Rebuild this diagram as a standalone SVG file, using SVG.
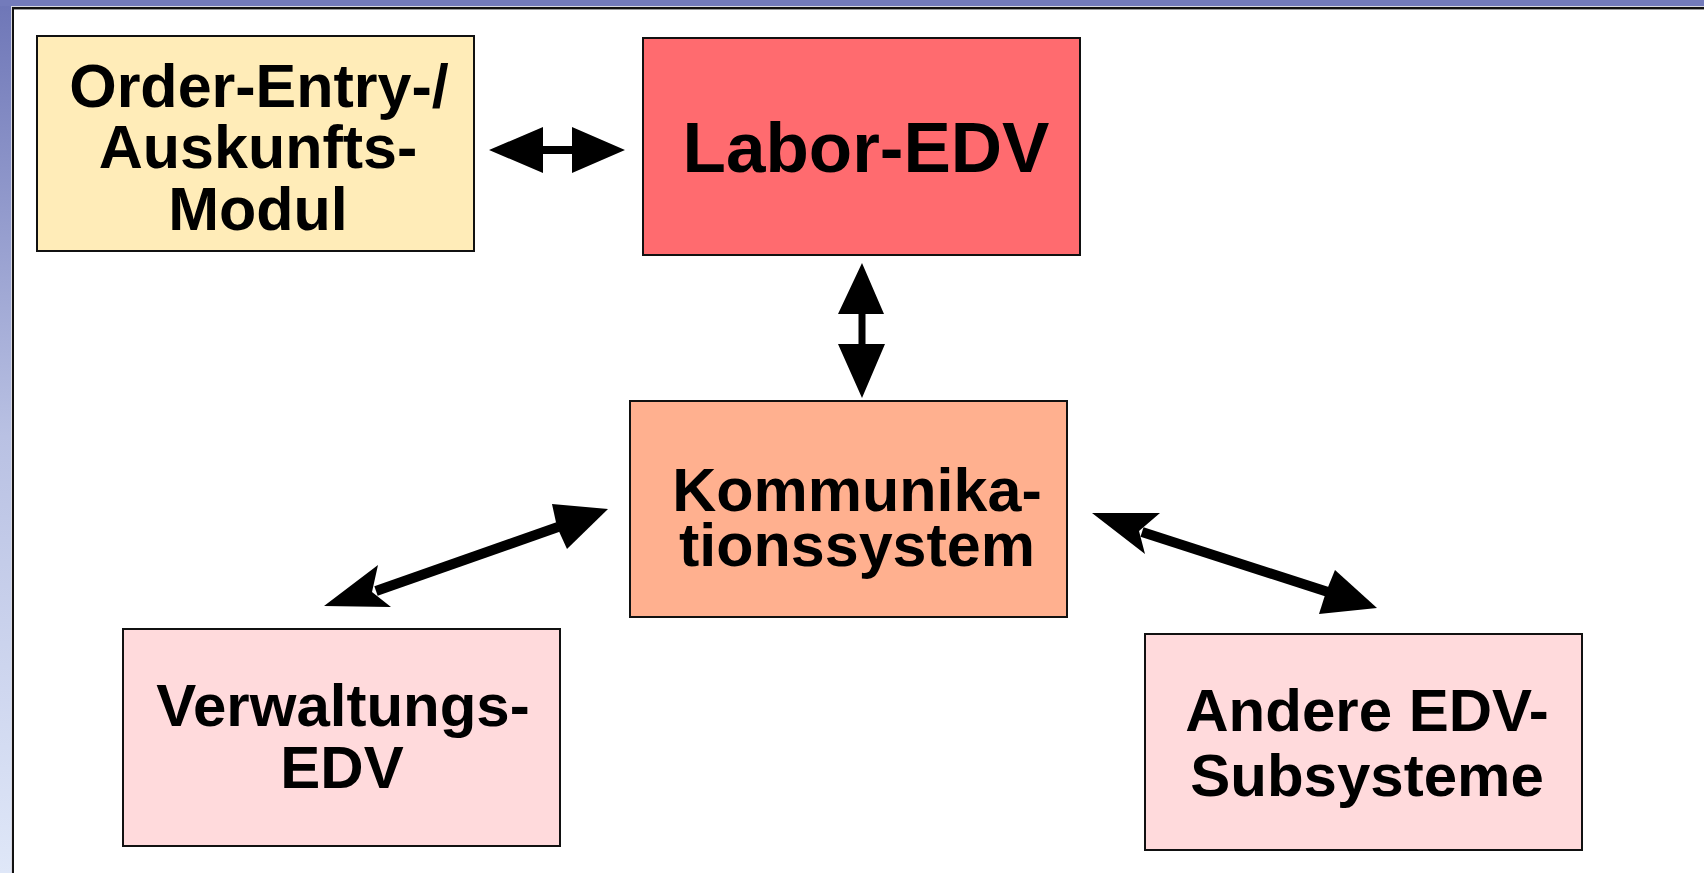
<svg xmlns="http://www.w3.org/2000/svg" width="1704" height="873" viewBox="0 0 1704 873">
<defs>
<linearGradient id="side" x1="0" y1="0" x2="0" y2="1">
<stop offset="0" stop-color="#6e76b7"/>
<stop offset="0.5" stop-color="#b9c1e3"/>
<stop offset="1" stop-color="#dfe7f8"/>
</linearGradient>
<style>
.box{stroke:#111;stroke-width:2}
.t{font-family:"Liberation Sans",Arial,Helvetica,sans-serif;font-weight:bold;fill:#000;text-anchor:middle}
.head{fill:#000}
.shaft{stroke:#000;stroke-width:10;fill:none}
</style>
</defs>
<rect x="0" y="0" width="1704" height="873" fill="url(#side)"/>
<rect x="0" y="0" width="1704" height="6" fill="#737bbb"/>
<rect x="11" y="6" width="1693" height="867" fill="#d8d8e0"/>
<rect x="12" y="7" width="1692" height="866" fill="#111"/>
<rect x="14" y="9" width="1690" height="864" fill="#9a9a9a"/>
<rect x="14" y="10" width="1690" height="863" fill="#ffffff"/>

<g id="order-entry">
<rect class="box" x="37" y="36" width="437" height="215" fill="#ffecb8"/>
<text class="t" font-size="61" x="259" y="107">Order-Entry-/</text>
<text class="t" font-size="61" x="258" y="168">Auskunfts-</text>
<text class="t" font-size="61" x="258" y="230">Modul</text>
</g>

<g id="labor-edv">
<rect class="box" x="643" y="38" width="437" height="217" fill="#ff6b6f"/>
<text class="t" font-size="71" x="866" y="172">Labor-EDV</text>
</g>

<g id="kommunikation">
<rect class="box" x="630" y="401" width="437" height="216" fill="#ffb08f"/>
<text class="t" font-size="61" x="857" y="511">Kommunika-</text>
<text class="t" font-size="61" x="857" y="566">tionssystem</text>
</g>

<g id="verwaltung">
<rect class="box" x="123" y="629" width="437" height="217" fill="#ffdadc"/>
<text class="t" font-size="60" x="343" y="726">Verwaltungs-</text>
<text class="t" font-size="60" x="342" y="788">EDV</text>
</g>

<g id="andere">
<rect class="box" x="1145" y="634" width="437" height="216" fill="#ffdadc"/>
<text class="t" font-size="60" x="1367" y="731">Andere EDV-</text>
<text class="t" font-size="60" x="1367" y="796">Subsysteme</text>
</g>

<g id="connectors">
<polygon class="head" points="489,150 543,127 543,146 572,146 572,127 625,150 572,173 572,154 543,154 543,173"/>
<polygon class="head" points="862,263 884,314 865.5,314 865.5,344 885,344 862,398 838,344 858.5,344 858.5,314 838,314"/>
<line class="shaft" x1="376" y1="591" x2="558" y2="527"/>
<polygon class="head" points="324,606 378,565 372,592 391,607"/>
<polygon class="head" points="608,509 552,504 557,527 567,549"/>
<line class="shaft" x1="1142" y1="532" x2="1328" y2="592"/>
<polygon class="head" points="1092,513 1160,513 1139,531 1145,554"/>
<polygon class="head" points="1377,608 1335,570 1326,592 1319,614"/>
</g>
</svg>
